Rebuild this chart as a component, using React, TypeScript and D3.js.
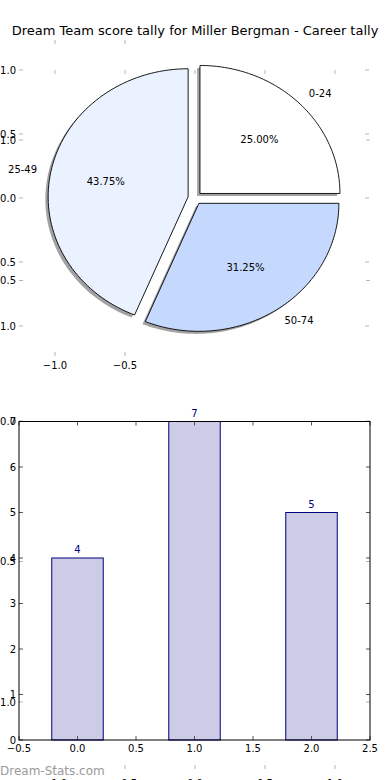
import React from 'react';
import * as d3 from 'd3';

// score bands and counts (pie + bar share the same tally)
const bands = ['0-24', '25-49', '50-74'];
const counts = [4, 7, 5];
const pieColors = ['#ffffff', '#eaf1ff', '#c5d9fe'];
const barPositions = [0, 1, 2];

const ghostTicks = [-1, -0.5, 0, 0.5, 1];
const barXTicks = [-0.5, 0, 0.5, 1, 1.5, 2, 2.5];
const barYTicks = [0, 1, 2, 3, 4, 5, 6, 7];

const title = 'Dream Team score tally for Miller Bergman - Career tally';
const font = 'DejaVu Sans, sans-serif';
const fmt = (v: number) => (v < 0 ? '\u2212' : '') + Math.abs(v).toFixed(1);

const App = () => {
  const width = 390;
  const height = 780;

  // pie sits in a non-equal-aspect axes, so wedges come out as ellipses
  const xPie = d3.scaleLinear().domain([-1, 1]).range([55, 335]);
  const yPie = d3.scaleLinear().domain([-1, 1]).range([326, 70]);
  // stray full-figure axes behind everything
  const yFig = d3.scaleLinear().domain([-1, 1]).range([702, 140]);

  const xBar = d3.scaleLinear().domain([-0.5, 2.5]).range([19, 370]);
  const yBar = d3.scaleLinear().domain([0, 7]).range([740, 421.5]);
  const barW = 0.44;

  const total = d3.sum(counts);
  const ends = Array.from(d3.cumsum(counts)).map((c) => (c / total) * 2 * Math.PI);
  const explode = 0.05;
  const line = d3
    .line<[number, number]>()
    .x((d) => xPie(d[0]))
    .y((d) => yPie(d[1]));

  const wedges = counts.map((v, i) => {
    const t1 = i === 0 ? 0 : ends[i - 1];
    const t2 = ends[i];
    const mid = (t1 + t2) / 2;
    const cx = explode * Math.cos(mid);
    const cy = explode * Math.sin(mid);
    const pts: [number, number][] = [[cx, cy]];
    const n = 80;
    for (let k = 0; k <= n; k++) {
      const t = t1 + ((t2 - t1) * k) / n;
      pts.push([cx + Math.cos(t), cy + Math.sin(t)]);
    }
    pts.push([cx, cy]);
    return { path: line(pts) + 'Z', mid, cx, cy, i, v };
  });

  const ghost = '#b4b4b4';
  const tick = '#555';

  return (
    <svg
      width={width}
      height={height}
      style={{ position: 'absolute', left: 0, top: 0, background: '#fff' }}
      fontFamily={font}
    >
      {/* ghost axes tick marks */}
      <g stroke={ghost} strokeWidth={1}>
        {ghostTicks.slice(0, 2).map((t) => (
          <line key={'t40' + t} x1={xPie(t)} x2={xPie(t)} y1={40} y2={44} />
        ))}
        {ghostTicks.map((t) => (
          <line key={'t71' + t} x1={xPie(t)} x2={xPie(t)} y1={70} y2={74} />
        ))}
        {ghostTicks.slice(0, 2).map((t) => (
          <line key={'b355' + t} x1={xPie(t)} x2={xPie(t)} y1={352} y2={356} />
        ))}
        {ghostTicks.map((t) => (
          <line key={'b768' + t} x1={xPie(t)} x2={xPie(t)} y1={765} y2={769} />
        ))}
        {ghostTicks.map((t) => (
          <g key={'lr' + t}>
            <line x1={19} x2={23} y1={yPie(t)} y2={yPie(t)} />
            <line x1={365} x2={369} y1={yPie(t)} y2={yPie(t)} />
            <line x1={19} x2={23} y1={yFig(t)} y2={yFig(t)} />
            <line x1={366} x2={370} y1={yFig(t)} y2={yFig(t)} />
          </g>
        ))}
      </g>
      <g fontSize={10} fill="#000">
        {ghostTicks.map((t) => (
          <g key={'gl' + t}>
            <text x={16} y={yPie(t)} textAnchor="end" dominantBaseline="central">{fmt(t)}</text>
            <text x={16} y={yFig(t)} textAnchor="end" dominantBaseline="central">{fmt(t)}</text>
            <text x={xPie(t)} y={787} textAnchor="middle">{fmt(t)}</text>
          </g>
        ))}
        {ghostTicks.slice(0, 2).map((t) => (
          <text key={'pb' + t} x={xPie(t)} y={369} textAnchor="middle">{fmt(t)}</text>
        ))}
      </g>

      <text x={195} y={35} textAnchor="middle" fontSize={13}>{title}</text>

      {/* pie shadows then wedges */}
      <g transform={`translate(${xPie(-0.02) - xPie(0)}, ${yPie(-0.02) - yPie(0)})`}>
        {wedges.map((w) => (
          <path key={'s' + w.i} d={w.path} fill="#7a7a7a" opacity={0.7} />
        ))}
      </g>
      {wedges.map((w) => (
        <path key={'w' + w.i} d={w.path} fill={pieColors[w.i]} stroke="#000" strokeWidth={0.9} />
      ))}
      <g fontSize={10}>
        {wedges.map((w) => {
          const lx = w.cx + 1.1 * Math.cos(w.mid);
          const ly = w.cy + 1.1 * Math.sin(w.mid);
          const px = w.cx + 0.6 * Math.cos(w.mid);
          const py = w.cy + 0.6 * Math.sin(w.mid);
          return (
            <g key={'l' + w.i}>
              <text
                x={xPie(lx)}
                y={yPie(ly)}
                textAnchor={lx > 0 ? 'start' : 'end'}
                dominantBaseline="central"
              >
                {bands[w.i]}
              </text>
              <text x={xPie(px)} y={yPie(py)} textAnchor="middle" dominantBaseline="central">
                {((w.v / total) * 100).toFixed(2)}%
              </text>
            </g>
          );
        })}
      </g>

      {/* bar chart */}
      <line
        x1={xBar(1)}
        x2={xBar(1)}
        y1={yBar(7)}
        y2={yBar(0)}
        stroke="#aaa"
        strokeDasharray="1,2"
      />
      {barPositions.map((p, i) => (
        <g key={'bar' + i}>
          <rect
            x={xBar(p - barW / 2)}
            y={yBar(counts[i])}
            width={xBar(p + barW / 2) - xBar(p - barW / 2)}
            height={yBar(0) - yBar(counts[i])}
            fill="#ccccE6"
            stroke="#000080"
            strokeWidth={1}
          />
          <text
            x={xBar(p)}
            y={yBar(counts[i]) - 5}
            textAnchor="middle"
            fontSize={10}
            fill="#000080"
          >
            {counts[i]}
          </text>
        </g>
      ))}
      <g stroke={tick} strokeWidth={1}>
        {barXTicks.map((t) => (
          <g key={'bx' + t}>
            <line x1={xBar(t)} x2={xBar(t)} y1={yBar(0)} y2={yBar(0) - 4} />
            <line x1={xBar(t)} x2={xBar(t)} y1={yBar(7)} y2={yBar(7) + 4} />
          </g>
        ))}
        {barYTicks.map((t) => (
          <g key={'by' + t}>
            <line x1={xBar(-0.5)} x2={xBar(-0.5) + 4} y1={yBar(t)} y2={yBar(t)} />
            <line x1={xBar(2.5)} x2={xBar(2.5) - 4} y1={yBar(t)} y2={yBar(t)} />
          </g>
        ))}
      </g>
      <rect
        x={xBar(-0.5)}
        y={yBar(7)}
        width={xBar(2.5) - xBar(-0.5)}
        height={yBar(0) - yBar(7)}
        fill="none"
        stroke="#000"
        strokeWidth={1}
      />
      <g fontSize={10}>
        {barXTicks.map((t) => (
          <text key={'bxl' + t} x={xBar(t)} y={752} textAnchor="middle">
            {fmt(t)}
          </text>
        ))}
        {barYTicks.map((t) => (
          <text key={'byl' + t} x={16} y={yBar(t)} textAnchor="end" dominantBaseline="central">
            {t}
          </text>
        ))}
      </g>

      <text x={0} y={775} fontSize={12} fill="#9a9a9a">
        Dream-Stats.com
      </text>
    </svg>
  );
};

export default App;
